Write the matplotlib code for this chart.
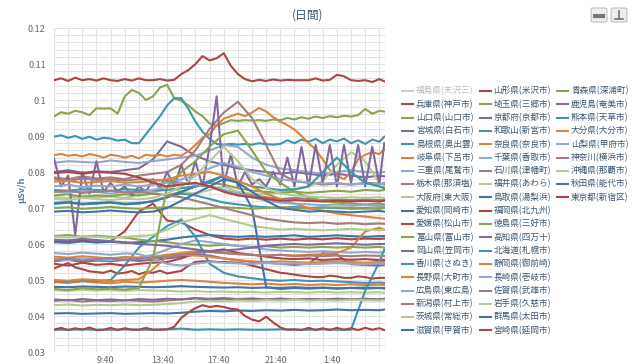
import numpy as np
import matplotlib.pyplot as plt
from matplotlib.lines import Line2D
from matplotlib.patches import FancyBboxPatch

plt.rcParams['font.family'] = ['Noto Sans CJK JP', 'DejaVu Sans']

# time axis in hours (24 = midnight, 25.67 = 1:40 next day)
hours = [6, 7, 8, 9, 10, 11, 12, 13, 14, 15, 16, 17, 18, 19, 20, 21, 22, 23,
         24, 25, 26, 27, 28, 29, 29.35]
half_hours = [6.0, 6.5, 7.0, 7.5, 8.0, 8.5, 9.0, 9.5, 10.0, 10.5, 11.0, 11.5,
              12.0, 12.5, 13.0, 13.5, 14.0, 14.5, 15.0, 15.5, 16.0, 16.5,
              17.0, 17.5, 18.0, 18.5, 19.0, 19.5, 20.0, 20.5, 21.0, 21.5,
              22.0, 22.5, 23.0, 23.5, 24.0, 24.5, 25.0, 25.5, 26.0, 26.5,
              27.0, 27.5, 28.0, 28.5, 29.0, 29.35]

tick_pos = [9 + 40 / 60, 13 + 40 / 60, 17 + 40 / 60, 21 + 40 / 60, 25 + 40 / 60]
tick_labels = ['9:40', '13:40', '17:40', '21:40', '1:40']
y_ticks = [0.03, 0.04, 0.05, 0.06, 0.07, 0.08, 0.09, 0.10, 0.11, 0.12]
y_labels = ['0.03', '0.04', '0.05', '0.06', '0.07', '0.08', '0.09', '0.1', '0.11', '0.12']

names = ['福島県(夫沢三)', '兵庫県(神戸市)', '山口県(山口市)', '宮城県(白石市)', '島根県(奥出雲)',
         '岐阜県(下呂市)', '三重県(尾鷲市)', '栃木県(那須塩)', '大阪府(東大阪)', '愛知県(岡崎市)',
         '愛媛県(松山市)', '富山県(富山市)', '岡山県(笠岡市)', '香川県(さぬき)', '長野県(大町市)',
         '広島県(東広島)', '新潟県(村上市)', '茨城県(常総市)', '滋賀県(甲賀市)',
         '山形県(米沢市)', '埼玉県(三郷市)', '京都府(京都市)', '和歌山(新宮市)', '奈良県(奈良市)',
         '千葉県(香取市)', '石川県(津幡町)', '福井県(あわら)', '鳥取県(湯梨浜)', '福岡県(北九州)',
         '徳島県(三好市)', '高知県(四万十)', '北海道(札幌市)', '静岡県(御前崎)', '長崎県(壱岐市)',
         '佐賀県(武雄市)', '岩手県(久慈市)', '群馬県(太田市)', '宮崎県(延岡市)',
         '青森県(深浦町)', '鹿児島(奄美市)', '熊本県(天草市)', '大分県(大分市)', '山梨県(甲府市)',
         '神奈川(横浜市)', '沖縄県(那覇市)', '秋田県(能代市)', '東京都(新宿区)']

palette = ['#4572A7', '#AA4643', '#89A54E', '#80699B', '#3D96AE',
           '#DB843D', '#92A8CD', '#A47D7C', '#B5CA92']

# --- series values (μSv/h) ---
fukushima = None  # hidden in the chart
hyogo = [.0608, .0605, .0610, .0606, .0608, .0635, .0690, .0712, .0665, .0660, .0640, .0625,
         .0615, .0612, .0615, .0612, .0615, .0612, .0615, .0613, .0616, .0613, .0615, .0614, .0615]
yamaguchi = [.0954, .0966, .0962, .0970, .0966, .0958, .0977, .0976, .0977, .0962, .1010, .1028,
             .1020, .1000, .1010, .1035, .1042, .1005, .0998, .0985, .0968, .0955, .0935, .0928,
             .0936, .0944, .0942, .0944, .0943, .0944, .0942, .0946, .0944, .0950, .0946, .0952,
             .0948, .0954, .0950, .0955, .0952, .0956, .0954, .0958, .0975, .0962, .0970, .0968]
miyagi = [.0800, .0805, .0798, .0802, .0800, .0805, .0810, .0835, .0885, .0870, .0845, .0830,
          .0820, .0810, .0805, .0800, .0795, .0800, .0795, .0790, .0795, .0790, .0785, .0790, .0788]
shimane = [.0898, .0902, .0895, .0900, .0892, .0898, .0890, .0895, .0893, .0887, .0890, .0880,
           .0880, .0905, .0930, .0955, .0985, .1005, .1005, .0975, .0940, .0912, .0892, .0878,
           .0876, .0878, .0876, .0878, .0876, .0880, .0877, .0876, .0878, .0888, .0880, .0890,
           .0884, .0892, .0880, .0890, .0885, .0893, .0880, .0888, .0878, .0890, .0884, .0898]
gifu = [.0847, .0850, .0845, .0848, .0843, .0850, .0846, .0840, .0848, .0845, .0840, .0845,
        .0838, .0848, .0845, .0848, .0843, .0848, .0845, .0858, .0875, .0895, .0905, .0930,
        .0948, .0955, .0962, .0955, .0965, .0978, .0968, .0952, .0940, .0930, .0918, .0900,
        .0880, .0862, .0835, .0805, .0790, .0780, .0800, .0835, .0848, .0855, .0850, .0862]
mie = [.0826, .0830, .0828, .0826, .0832, .0828, .0825, .0830, .0835, .0840, .0845, .0860,
       .0875, .0870, .0840, .0820, .0810, .0805, .0800, .0795, .0800, .0805, .0800, .0798, .0800]
tochigi = [.0785, .0780, .0788, .0782, .0785, .0780, .0790, .0795, .0800, .0820, .0860, .0920,
           .0965, .0995, .0950, .0875, .0795, .0775, .0770, .0765, .0768, .0765, .0770, .0768, .0765]
osaka = [.0730, .0728, .0735, .0730, .0732, .0728, .0735, .0740, .0760, .0745, .0740, .0750,
         .0760, .0745, .0740, .0738, .0745, .0750, .0760, .0775, .0820, .0855, .0830, .0770, .0760]
aichi = [.0605, .0603, .0607, .0604, .0606, .0603, .0605, .0608, .0612, .0618, .0622, .0625,
         .0622, .0620, .0622, .0620, .0622, .0624, .0620, .0622, .0624, .0622, .0620, .0622, .0622]
ehime = [.0532, .0540, .0547, .0535, .0530, .0524, .0522, .0520, .0526, .0518, .0520, .0525,
         .0516, .0522, .0520, .0526, .0518, .0522, .0525, .0540, .0550, .0552, .0552, .0550,
         .0550, .0549, .0548, .0545, .0540, .0535, .0530, .0525, .0520, .0518, .0515, .0512,
         .0510, .0508, .0508, .0512, .0510, .0506, .0506, .0510, .0508, .0504, .0506, .0506]
toyama = [.0622, .0625, .0620, .0623, .0620, .0618, .0612, .0608, .0605, .0600, .0598, .0595,
          .0598, .0595, .0592, .0594, .0590, .0592, .0590, .0592, .0590, .0592, .0590, .0592, .0590]
okayama = [.0552, .0556, .0550, .0554, .0552, .0556, .0553, .0556, .0560, .0565, .0570, .0568,
           .0560, .0555, .0550, .0548, .0545, .0542, .0545, .0575, .0570, .0544, .0542, .0540, .0542]
kagawa = [.0711, .0715, .0710, .0712, .0715, .0710, .0712, .0720, .0730, .0740, .0735, .0725,
          .0715, .0710, .0705, .0702, .0700, .0703, .0700, .0702, .0700, .0698, .0700, .0698, .0700]
nagano = [.0494, .0492, .0496, .0493, .0491, .0495, .0493, .0495, .0498, .0500, .0498, .0495,
          .0492, .0490, .0488, .0490, .0487, .0489, .0486, .0488, .0486, .0488, .0486, .0487, .0486]
hiroshima = [.0558, .0555, .0560, .0557, .0555, .0560, .0562, .0570, .0585, .0600, .0610, .0605,
             .0600, .0595, .0590, .0585, .0582, .0580, .0578, .0580, .0578, .0576, .0578, .0576, .0578]
niigata = [.0442, .0445, .0440, .0443, .0441, .0444, .0442, .0440, .0443, .0446, .0450, .0448,
           .0450, .0447, .0449, .0446, .0448, .0446, .0447, .0445, .0447, .0446, .0448, .0446, .0446]
ibaraki = [.0472, .0470, .0473, .0471, .0472, .0470, .0472, .0471, .0470, .0468, .0469, .0467,
           .0468, .0466, .0467, .0465, .0467, .0466, .0465, .0467, .0465, .0466, .0465, .0466, .0465]
shiga = [.0481, .0480, .0482, .0481, .0480, .0482, .0481, .0480, .0481, .0483, .0481, .0480,
         .0479, .0480, .0478, .0479, .0478, .0480, .0478, .0479, .0477, .0478, .0479, .0478, .0478]
yamagata = [.1055, .1060, .1053, .1062, .1055, .1058, .1054, .1060, .1055, .1053, .1058, .1054,
            .1060, .1055, .1055, .1058, .1054, .1056, .1072, .1083, .1100, .1122, .1110, .1116,
            .1130, .1095, .1072, .1058, .1052, .1056, .1053, .1057, .1054, .1056, .1055, .1055,
            .1055, .1060, .1054, .1056, .1070, .1066, .1055, .1053, .1055, .1050, .1058, .1052]
saitama = [.0735, .0738, .0730, .0735, .0733, .0738, .0735, .0740, .0735, .0745, .0760, .0770,
           .0765, .0755, .0748, .0745, .0742, .0745, .0742, .0745, .0748, .0745, .0750, .0748, .0750]
kyoto = [.0838, .0760, .0790, .0625, .0800, .0740, .0830, .0745, .0770, .0745, .0760, .0735,
         .0760, .0745, .0780, .0755, .0800, .0760, .0820, .0765, .0830, .0760, .0870, .1010,
         .0760, .0850, .0760, .0800, .0765, .0780, .0760, .0800, .0765, .0840, .0760, .0870,
         .0760, .0875, .0770, .0875, .0760, .0875, .0770, .0875, .0760, .0870, .0765, .0880]
wakayama = [.0498, .0495, .0500, .0497, .0500, .0540, .0590, .0620, .0650, .0668, .0620, .0545,
            .0520, .0510, .0505, .0500, .0498, .0500, .0497, .0498, .0496, .0494, .0492, .0493, .0492]
nara = [.0565, .0562, .0566, .0563, .0560, .0564, .0562, .0565, .0570, .0575, .0580, .0578,
        .0575, .0572, .0570, .0568, .0570, .0568, .0570, .0572, .0575, .0590, .0635, .0645, .0640]
chiba = [.0760, .0765, .0758, .0762, .0760, .0765, .0760, .0765, .0770, .0780, .0790, .0810,
         .0825, .0815, .0800, .0790, .0780, .0775, .0770, .0768, .0770, .0765, .0768, .0766, .0770]
ishikawa = [.0780, .0775, .0782, .0778, .0780, .0776, .0780, .0778, .0775, .0770, .0765, .0760,
            .0750, .0740, .0735, .0730, .0725, .0728, .0725, .0722, .0725, .0722, .0724, .0722, .0724]
fukui = [.0620, .0618, .0622, .0620, .0617, .0620, .0622, .0625, .0640, .0660, .0670, .0680,
         .0670, .0660, .0650, .0645, .0640, .0642, .0640, .0638, .0640, .0642, .0640, .0638, .0640]
tottori = [.0714, .0716, .0712, .0714, .0716, .0712, .0714, .0718, .0730, .0745, .0760, .0775,
           .0790, .0770, .0700, .0480, .0475, .0478, .0476, .0478, .0476, .0478, .0476, .0478, .0476]
fukuoka = [.0545, .0540, .0548, .0542, .0545, .0540, .0545, .0548, .0550, .0560, .0575, .0580,
           .0585, .0575, .0570, .0565, .0560, .0558, .0560, .0555, .0558, .0556, .0558, .0555, .0556]
tokushima = [.0475, .0472, .0478, .0474, .0476, .0473, .0478, .0560, .0760, .0800, .0830, .0870,
             .0905, .0915, .0860, .0800, .0770, .0745, .0730, .0720, .0715, .0712, .0710, .0712, .0710]
kochi = [.0446, .0443, .0447, .0444, .0446, .0443, .0447, .0445, .0448, .0446, .0449, .0446,
         .0448, .0445, .0447, .0446, .0448, .0445, .0447, .0446, .0448, .0446, .0447, .0446, .0448]
hokkaido = [.0362, .0362, .0363, .0362, .0362, .0363, .0362, .0362, .0363, .0365, .0362, .0363,
            .0362, .0363, .0362, .0362, .0363, .0362, .0362, .0363, .0362, .0362, .0470, .0550, .0585]
shizuoka = [.0500, .0498, .0502, .0500, .0497, .0500, .0502, .0530, .0565, .0570, .0568, .0565,
            .0560, .0555, .0552, .0550, .0552, .0550, .0548, .0550, .0552, .0550, .0548, .0550, .0550]
nagasaki = [.0575, .0572, .0576, .0573, .0570, .0574, .0572, .0560, .0545, .0540, .0545, .0550,
            .0548, .0546, .0545, .0547, .0545, .0546, .0544, .0545, .0547, .0545, .0544, .0546, .0545]
saga = [.0556, .0560, .0554, .0558, .0561, .0555, .0558, .0562, .0565, .0570, .0575, .0578,
        .0575, .0572, .0570, .0568, .0570, .0566, .0568, .0566, .0568, .0566, .0568, .0567, .0567]
iwate = [.0430, .0432, .0429, .0431, .0430, .0432, .0430, .0431, .0433, .0436, .0440, .0442,
         .0441, .0443, .0442, .0444, .0443, .0445, .0443, .0444, .0443, .0445, .0444, .0443, .0444]
gunma = [.0407, .0408, .0406, .0407, .0408, .0406, .0407, .0408, .0407, .0409, .0412, .0414,
         .0413, .0415, .0414, .0416, .0415, .0417, .0415, .0416, .0418, .0416, .0417, .0416, .0418]
miyazaki = [.0362, .0367, .0361, .0366, .0362, .0368, .0361, .0362, .0367, .0361, .0366, .0362,
            .0362, .0367, .0362, .0362, .0363, .0370, .0395, .0410, .0422, .0430, .0425, .0428,
            .0425, .0420, .0418, .0400, .0390, .0385, .0398, .0382, .0368, .0362, .0363, .0361,
            .0367, .0361, .0366, .0361, .0367, .0362, .0366, .0361, .0367, .0362, .0366, .0361]
aomori = [.0700, .0702, .0698, .0700, .0703, .0700, .0698, .0700, .0702, .0700, .0698, .0700,
          .0702, .0700, .0698, .0700, .0702, .0700, .0698, .0700, .0702, .0700, .0698, .0700, .0700]
kagoshima = [.0612, .0610, .0614, .0611, .0608, .0605, .0600, .0598, .0595, .0590, .0585, .0580,
             .0582, .0585, .0590, .0595, .0598, .0600, .0598, .0600, .0602, .0600, .0598, .0600, .0600]
kumamoto = [.0750, .0748, .0752, .0750, .0748, .0752, .0750, .0748, .0750, .0755, .0760, .0770,
            .0790, .0775, .0760, .0755, .0750, .0752, .0760, .0800, .0840, .0800, .0770, .0760, .0755]
oita = [.0773, .0775, .0770, .0772, .0775, .0770, .0772, .0775, .0780, .0790, .0795, .0800,
        .0790, .0775, .0760, .0740, .0725, .0712, .0700, .0692, .0685, .0680, .0676, .0672, .0670]
yamanashi = [.0745, .0742, .0748, .0745, .0740, .0745, .0742, .0750, .0760, .0770, .0765, .0760,
             .0750, .0740, .0730, .0720, .0715, .0712, .0710, .0708, .0710, .0706, .0708, .0705, .0706]
kanagawa = [.0745, .0748, .0742, .0745, .0748, .0743, .0745, .0740, .0735, .0730, .0720, .0710,
            .0700, .0690, .0680, .0670, .0665, .0660, .0658, .0660, .0656, .0658, .0655, .0657, .0656]
okinawa = [.0725, .0722, .0728, .0725, .0722, .0726, .0724, .0728, .0740, .0760, .0790, .0830,
           .0870, .0830, .0780, .0755, .0740, .0735, .0732, .0730, .0728, .0730, .0728, .0730, .0728]
akita = [.0690, .0692, .0688, .0690, .0693, .0690, .0688, .0690, .0700, .0720, .0740, .0760,
         .0780, .0770, .0745, .0720, .0700, .0695, .0690, .0692, .0690, .0688, .0690, .0692, .0690]
tokyo = [.0797, .0800, .0795, .0800, .0798, .0795, .0785, .0770, .0760, .0765, .0770, .0760,
         .0745, .0735, .0730, .0725, .0720, .0722, .0720, .0718, .0720, .0718, .0720, .0718, .0720]

series = [fukushima, hyogo, yamaguchi, miyagi, shimane, gifu, mie, tochigi, osaka, aichi,
          ehime, toyama, okayama, kagawa, nagano, hiroshima, niigata, ibaraki, shiga,
          yamagata, saitama, kyoto, wakayama, nara, chiba, ishikawa, fukui, tottori, fukuoka,
          tokushima, kochi, hokkaido, shizuoka, nagasaki, saga, iwate, gunma, miyazaki,
          aomori, kagoshima, kumamoto, oita, yamanashi, kanagawa, okinawa, akita, tokyo]

W, H = 640, 364
fig = plt.figure(figsize=(W / 100, H / 100), dpi=100)
ax = fig.add_axes([54 / W, 1 - 352 / H, (385 - 54) / W, (352 - 28) / H])

for i, vals in enumerate(series):
    if vals is None:
        continue
    x = half_hours if len(vals) == len(half_hours) else hours
    ax.plot(x, vals, color=palette[i % 9], lw=1.5, solid_joinstyle='round', zorder=3)

ax.set_xlim(6.0, 29.4)
ax.set_ylim(0.03, 0.12)
ax.set_yticks(y_ticks)
ax.set_yticklabels(y_labels)
ax.set_yticks(np.arange(0.03, 0.1201, 0.002), minor=True)
ax.set_xticks(tick_pos)
ax.set_xticklabels(tick_labels)
ax.set_xticks(range(6, 30), minor=True)
ax.grid(True, which='minor', color='#e2e2e2', lw=0.8, zorder=0)
ax.grid(True, which='major', axis='y', color='#e2e2e2', lw=0.8, zorder=0)
ax.tick_params(which='both', length=0)
ax.tick_params(axis='y', pad=6, labelsize=6.5, labelcolor='#666666')
ax.tick_params(axis='x', pad=3, labelsize=6.5, labelcolor='#666666')
for s in ax.spines.values():
    s.set_visible(False)
ax.set_ylabel('μSv/h', color='#4d759e', fontsize=6.5, fontweight='bold', labelpad=1)

fig.text(308 / W, 1 - 15 / H, '(日間)', ha='center', va='center', fontsize=8.5, color='#3E576F')

# legend, column-major with 19 rows
for i, name in enumerate(names):
    col, row = divmod(i, 19)
    x0 = 402 + 77.5 * col
    y0 = 1 - (91 + 13.3 * row) / H
    c = palette[i % 9] if series[i] is not None else '#cccccc'
    tc = '#3E576F' if series[i] is not None else '#bbbbbb'
    fig.add_artist(Line2D([x0 / W, (x0 + 11) / W], [y0, y0], color=c, lw=1.5))
    fig.text((x0 + 14) / W, y0, name, va='center', ha='left', fontsize=6.2, color=tc)

# export / print buttons
for bx in [591, 611]:
    fig.add_artist(FancyBboxPatch((bx / W, 1 - 22 / H), 16 / W, 14 / H,
                                  boxstyle='round,pad=0,rounding_size=0.004',
                                  transform=fig.transFigure, fc='#eeeeee', ec='#b0b0b0', lw=0.6))
fig.add_artist(Line2D([595 / W, 603 / W], [1 - 16 / H, 1 - 16 / H], color='#777777', lw=3))
fig.add_artist(Line2D([619 / W, 619 / W], [1 - 11 / H, 1 - 18 / H], color='#777777', lw=1.2))
fig.add_artist(Line2D([615 / W, 623 / W], [1 - 19 / H, 1 - 19 / H], color='#777777', lw=1.2))

fig.savefig('out.png', dpi=100)
